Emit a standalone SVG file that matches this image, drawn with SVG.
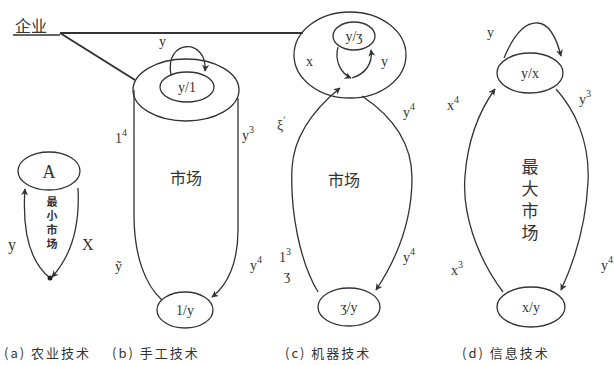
<svg xmlns="http://www.w3.org/2000/svg" width="614" height="365" viewBox="0 0 614 365">
<style>
.ln{fill:none;stroke:#333;stroke-width:1.3}
.el{fill:none;stroke:#333;stroke-width:1.3}
.lb{font-family:"Liberation Serif",serif;font-size:14px;fill:#333}
.sm{font-family:"Liberation Serif",serif;font-size:10px;fill:#333}
.cn{font-family:"Noto Sans CJK SC",sans-serif;font-size:16px;fill:#333}
.cnv{font-family:"Noto Sans CJK SC",sans-serif;font-size:17px;fill:#333;writing-mode:vertical-rl;letter-spacing:5px}
.cns{font-family:"Noto Sans CJK SC",sans-serif;font-size:11px;font-weight:bold;fill:#333;writing-mode:vertical-rl;letter-spacing:3px}
.cap{font-family:"Noto Sans CJK SC",sans-serif;font-size:13px;fill:#333;letter-spacing:2px}
</style>
<defs>
<marker id="ar" viewBox="0 0 10 10" refX="9" refY="5" markerWidth="7" markerHeight="7" orient="auto" markerUnits="userSpaceOnUse">
<path d="M0,0 L10,5 L0,10 L3,5 Z" fill="#333"/>
</marker>
</defs>
<rect width="614" height="365" fill="#fff"/>

<g id="firm">
<text x="15" y="32" class="cn">企业</text>
<line x1="13" y1="35" x2="60" y2="35" class="ln"/>
</g>

<g id="connectors">
<line x1="60" y1="33" x2="303" y2="33" stroke="#333" stroke-width="2.2"/>
<line x1="60" y1="33" x2="135" y2="80" stroke="#333" stroke-width="2"/>
<!-- a -->
<path d="M50,278 C30,262 22,232 25,189" class="ln" marker-end="url(#ar)"/>
<path d="M78,188 C80,225 72,255 52,277" class="ln" marker-end="url(#ar)"/>
<!-- b -->
<path d="M171,75 C164,38 208,38 205,71" class="ln" marker-end="url(#ar)"/>
<path d="M134,90 L134,215 C134,255 145,285 162,300" class="ln"/>
<path d="M238,98 L238,230 C238,262 228,285 212,297" class="ln" marker-end="url(#ar)"/>
<!-- c -->
<path d="M338,47 C334,62 342,74 351,78" class="ln" marker-end="url(#ar)"/>
<path d="M352,78 C365,74 373,64 371,50" class="ln" marker-end="url(#ar)"/>
<path d="M318,292 C300,262 290,212 292,168 C294,132 318,106 340,88" class="ln" marker-end="url(#ar)"/>
<path d="M362,96 C386,112 412,138 412,178 C412,222 396,260 376,290" class="ln" marker-end="url(#ar)"/>
<!-- d -->
<path d="M504,58 C514,34 526,22 538,23 C550,24 557,40 561,56" class="ln" marker-end="url(#ar)"/>
<path d="M503,292 C476,256 462,212 465,176 C468,136 480,110 495,89" class="ln" marker-end="url(#ar)"/>
<path d="M556,89 C575,110 590,142 588,182 C586,222 575,260 561,290" class="ln" marker-end="url(#ar)"/>
</g>

<g id="a">
<ellipse cx="49" cy="171" rx="31" ry="19" class="el"/>
<text x="49" y="178" class="lb" style="font-size:18px" text-anchor="middle">A</text>
<circle cx="50" cy="278" r="2.5" fill="#222"/>
<text x="52" y="196" class="cns">最小市场</text>
<text x="8" y="250" class="lb" style="font-size:16px">y</text>
<text x="82" y="250" class="lb" style="font-size:16px">X</text>
</g>

<g id="b">
<ellipse cx="186" cy="90" rx="53" ry="31" class="el"/>
<ellipse cx="187" cy="87" rx="27" ry="15" class="el"/>
<text x="187" y="92" class="lb" text-anchor="middle">y/1</text>
<text x="159" y="46" class="lb">y</text>
<text x="186" y="184" class="cn" text-anchor="middle">市场</text>
<ellipse cx="185" cy="310" rx="28" ry="18" class="el"/>
<text x="185" y="315" class="lb" text-anchor="middle">1/y</text>
<text x="115" y="143" class="lb">1<tspan class="sm" dy="-7">4</tspan></text>
<text x="242" y="140" class="lb">y<tspan class="sm" dy="-7">3</tspan></text>
<text x="115" y="271" class="lb">ỹ</text>
<text x="250" y="270" class="lb">y<tspan class="sm" dy="-7">4</tspan></text>
</g>

<g id="c">
<ellipse cx="350" cy="55" rx="56" ry="43" class="el"/>
<ellipse cx="354" cy="36" rx="21" ry="14" class="el"/>
<text x="354" y="41" class="lb" text-anchor="middle">y/ʒ</text>
<text x="306" y="66" class="lb">x</text>
<text x="381" y="66" class="lb">y</text>
<text x="344" y="186" class="cn" text-anchor="middle">市场</text>
<ellipse cx="349" cy="307" rx="31" ry="19" class="el"/>
<text x="349" y="312" class="lb" text-anchor="middle">ʒ/y</text>
<text x="277" y="130" class="lb">ξ<tspan class="sm" dy="-7">ʹ</tspan></text>
<text x="279" y="262" class="lb">1<tspan class="sm" dy="-7">3</tspan></text>
<text x="284" y="280" class="lb">ʒ</text>
<text x="403" y="117" class="lb">y<tspan class="sm" dy="-7">4</tspan></text>
<text x="403" y="262" class="lb">y<tspan class="sm" dy="-7">4</tspan></text>
</g>

<g id="d">
<ellipse cx="530" cy="73" rx="33" ry="20" class="el"/>
<text x="530" y="78" class="lb" text-anchor="middle">y/x</text>
<text x="487" y="37" class="lb">y</text>
<text x="530" y="158" class="cnv">最大市场</text>
<ellipse cx="531" cy="307" rx="34" ry="20" class="el"/>
<text x="531" y="312" class="lb" text-anchor="middle">x/y</text>
<text x="447" y="110" class="lb">x<tspan class="sm" dy="-7">4</tspan></text>
<text x="451" y="275" class="lb">x<tspan class="sm" dy="-7">3</tspan></text>
<text x="579" y="104" class="lb">y<tspan class="sm" dy="-7">3</tspan></text>
<text x="601" y="270" class="lb">y<tspan class="sm" dy="-7">4</tspan></text>
</g>

<g id="captions">
<text x="4" y="358" class="cap">(a) 农业技术</text>
<text x="112" y="358" class="cap">(b) 手工技术</text>
<text x="285" y="358" class="cap">(c) 机器技术</text>
<text x="462" y="358" class="cap">(d) 信息技术</text>
</g>
</svg>
